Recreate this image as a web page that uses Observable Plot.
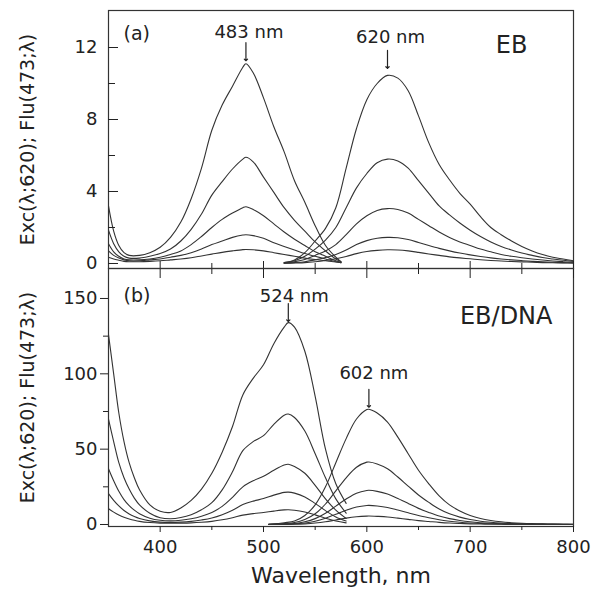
<!DOCTYPE html>
<html><head><meta charset="utf-8">
<script src="https://cdn.jsdelivr.net/npm/d3@7"></script>
<script src="https://cdn.jsdelivr.net/npm/@observablehq/plot@0.6"></script>
<style>
body{margin:0;background:#fff}
#chart{position:relative;width:592px;height:589px;overflow:hidden}
#top,#bot{position:absolute;left:0}
#top{top:0} #bot{top:268px}
svg{overflow:visible}
</style>
</head><body><div id="chart"><div id="top"></div><div id="bot"></div></div>
<script>
// ---------- Panel (a): EB ----------
const wlExcA = [350,355,360,365,370,380,390,400,410,420,430,440,450,460,470,480,483,490,500,510,520,530,540,550,560,570,575];
const excA1 = [3.2,1.8,1.0,0.6,0.45,0.45,0.6,0.9,1.45,2.3,3.6,5.3,7.4,8.8,9.85,10.9,11.1,10.6,9.2,7.6,6.2,4.6,3.4,2.1,1.0,0.35,0.1];
const excA2 = [1.85,1.1,0.65,0.4,0.3,0.3,0.4,0.55,0.8,1.25,1.9,2.75,3.8,4.55,5.25,5.8,5.9,5.65,4.8,3.95,3.1,2.4,1.8,1.2,0.7,0.25,0.1];
const excA3 = [1.1,0.65,0.4,0.25,0.2,0.2,0.25,0.35,0.5,0.7,1.05,1.5,2.0,2.45,2.8,3.1,3.15,3.0,2.65,2.2,1.75,1.35,1.0,0.65,0.4,0.15,0.05];
const excA4 = [0.7,0.45,0.3,0.2,0.15,0.15,0.2,0.25,0.35,0.45,0.6,0.8,1.05,1.25,1.45,1.58,1.6,1.55,1.4,1.15,0.95,0.75,0.55,0.4,0.25,0.1,0.05];
const excA5 = [0.35,0.25,0.18,0.12,0.1,0.1,0.12,0.15,0.2,0.25,0.32,0.42,0.52,0.62,0.7,0.77,0.78,0.76,0.7,0.6,0.5,0.4,0.3,0.22,0.15,0.08,0.05];

const wlEmA = [520,530,540,550,560,570,580,590,600,610,620,630,640,650,660,670,680,690,700,710,720,730,740,750,760,770,780,790,800];
const emA1 = [0.05,0.2,0.6,1.25,1.95,3.1,5.3,7.5,9.1,10.0,10.45,10.3,9.6,8.2,6.7,5.5,4.65,3.9,3.3,2.6,2.0,1.6,1.25,0.95,0.7,0.5,0.35,0.25,0.15];
const emA2 = [0.05,0.15,0.4,0.8,1.3,2.0,3.1,4.2,5.0,5.6,5.8,5.7,5.3,4.6,3.9,3.2,2.7,2.25,1.85,1.5,1.2,0.95,0.75,0.58,0.45,0.33,0.25,0.18,0.12];
const emA3 = [0.03,0.1,0.22,0.45,0.7,1.05,1.6,2.2,2.65,2.95,3.05,3.0,2.8,2.45,2.1,1.75,1.45,1.2,1.0,0.8,0.65,0.5,0.4,0.32,0.25,0.19,0.14,0.1,0.07];
const emA4 = [0.02,0.05,0.1,0.2,0.33,0.5,0.75,1.05,1.27,1.4,1.45,1.43,1.33,1.17,1.0,0.84,0.7,0.58,0.48,0.39,0.31,0.25,0.2,0.16,0.12,0.09,0.07,0.05,0.04];
const emA5 = [0.01,0.03,0.05,0.1,0.17,0.26,0.39,0.55,0.67,0.73,0.76,0.75,0.7,0.62,0.53,0.45,0.37,0.31,0.26,0.21,0.17,0.14,0.11,0.09,0.07,0.05,0.04,0.03,0.02];

// ---------- Panel (b): EB/DNA ----------
const wlExcB = [350,355,360,365,370,375,380,390,400,410,420,430,440,450,460,470,480,490,500,510,520,524,530,540,550,560,570,580];
const excB1 = [126,100,74,55,41,31,23,13,8.8,8.0,11,16,23.5,34,48,65,86,97,106,120,131,134,131,115,85,50,27,14];
const excB2 = [70,55,41,31,23.5,17.5,13,7.5,4.5,3.8,4.6,6.5,9.8,14.5,23,35,49,55,59,66.5,72.5,73.3,71,62,47,31,17,7.5];
const excB3 = [37,29,22,16.5,12.5,9.5,7.2,4.2,2.8,2.4,2.8,3.8,5.5,8,12,18,25,29,32,36,39.5,40,38.5,34,26,17,9.5,4];
const excB4 = [20.5,16,12.3,9.3,7,5.3,4,2.4,1.6,1.4,1.6,2.1,3,4.3,6.5,9.5,13.2,15.5,17.2,19.5,21.3,21.5,20.8,18.3,14,9.2,5,2.3];
const excB5 = [10.4,8.2,6.3,4.8,3.7,2.8,2.1,1.3,0.9,0.8,0.9,1.1,1.5,2.1,3.1,4.5,6.2,7.2,8.0,8.9,9.7,9.8,9.5,8.3,6.4,4.2,2.3,1.1];

const wlEmB = [505,510,520,530,540,550,560,570,580,590,600,602,610,620,630,640,650,660,670,680,690,700,710,720,730,740,750,760,770,780,790,800];
const emB1 = [0.2,0.4,1.2,2.3,6,13,25,41,57,70,76.3,76.5,74,68,58,47,36,27,19,13,9,6,4,2.7,1.8,1.2,0.8,0.55,0.4,0.3,0.2,0.15];
const emB2 = [0.1,0.2,0.65,1.3,3.3,7.1,13.6,22.3,31,38,41.4,41.5,40.2,37,31.5,25.5,19.6,14.7,10.3,7.1,4.9,3.3,2.2,1.5,1.0,0.65,0.45,0.3,0.22,0.16,0.11,0.08];
const emB3 = [0.06,0.12,0.36,0.7,1.8,3.9,7.4,12.2,16.9,20.8,22.6,22.7,22,20.2,17.2,14,10.7,8,5.6,3.9,2.7,1.8,1.2,0.8,0.53,0.36,0.24,0.16,0.12,0.09,0.06,0.04];
const emB4 = [0.03,0.07,0.2,0.38,1.0,2.2,4.2,6.8,9.5,11.6,12.65,12.7,12.3,11.3,9.6,7.8,6.0,4.5,3.15,2.2,1.5,1.0,0.66,0.45,0.3,0.2,0.13,0.09,0.07,0.05,0.03,0.02];
const emB5 = [0.01,0.03,0.09,0.17,0.44,0.95,1.8,3.0,4.2,5.1,5.57,5.6,5.4,5.0,4.2,3.4,2.6,2.0,1.4,0.95,0.66,0.44,0.29,0.2,0.13,0.09,0.06,0.04,0.03,0.02,0.015,0.01];

// ---------- ticks & annotations ----------
const xMajor = [400,500,600,700,800];
const xMinor = [450,550,650,750];
const yMajorA = [0,4,8,12];
const yMinorA = [2,6,10];
const yMajorB = [0,50,100,150];
const yMinorB = [25,75,125];
const peakWlA = [483,620], peakVA = [11.1,10.45], peakTextA = ["483 nm","620 nm"];
const peakWlB = [524,602], peakVB = [134,76.5], peakTextB = ["524 nm","602 nm"];
const yLabel = "Exc(\u03bb;620); Flu(473;\u03bb)";
const xLabel = "Wavelength, nm";

function rows(wl, series, group) {
  return series.flatMap((vals, i) => vals.map((v, j) => ({wl: wl[j], v, s: group + i})));
}
const dataA = [...rows(wlExcA, [excA1,excA2,excA3,excA4,excA5], "ex"), ...rows(wlEmA, [emA1,emA2,emA3,emA4,emA5], "em")];
const dataB = [...rows(wlExcB, [excB1,excB2,excB3,excB4,excB5], "ex"), ...rows(wlEmB, [emB1,emB2,emB3,emB4,emB5], "em")];

const INK = "#222";
const style = {fontFamily: "DejaVu Sans", fontSize: "18px", color: INK, background: "transparent", overflow: "visible"};
const blank = () => "";

function peakMarks(wl, v, txt, i, arrowDy, textDy, textDx) {
  return [
    Plot.vector([0], {x: [wl[i]], y: [v[i]], length: 18, rotate: 180, anchor: "end", shape: "arrow", r: 1.6, dy: arrowDy, stroke: INK, strokeWidth: 1.2}),
    Plot.text([0], {x: [wl[i]], y: [v[i]], text: [txt[i]], dy: textDy, dx: textDx, fontSize: 18, fill: INK, lineAnchor: "middle"})
  ];
}
function label(txt, frameAnchor, opts) {
  return Plot.text([txt], {frameAnchor, text: d => d, lineAnchor: "middle", fill: INK, ...opts});
}

const topPlot = Plot.plot({
  width: 592, height: 268, marginLeft: 108, marginRight: 19, marginTop: 10, marginBottom: 0,
  style,
  x: {domain: [350, 800], label: null},
  y: {domain: [-0.278, 14.056], label: null},
  marks: [
    Plot.line(dataA, {x: "wl", y: "v", z: "s", curve: "catmull-rom", stroke: "#333", strokeWidth: 1.1}),
    Plot.frame({stroke: "#333", strokeWidth: 1.2}),
    Plot.axisY({ticks: yMajorA, tickSize: 0, tickPadding: 11, label: null}),
    Plot.axisY({ticks: yMajorA, tickSize: -10, tickFormat: blank, label: null}),
    Plot.axisY({ticks: yMinorA, tickSize: -7, tickFormat: blank, label: null}),
    Plot.axisX({anchor: "bottom", ticks: xMajor, tickSize: -7, tickFormat: blank, label: null}),
    Plot.axisX({anchor: "bottom", ticks: xMinor, tickSize: -5, tickFormat: blank, label: null}),
    label(yLabel, "left", {rotate: -90, textAnchor: "middle", dx: -81, fontSize: 19}),
    label("(a)", "top-left", {textAnchor: "start", dx: 15, dy: 23, fontSize: 19}),
    label("EB", "top-right", {textAnchor: "end", dx: -46, dy: 35, fontSize: 24}),
    ...peakMarks(peakWlA, peakVA, peakTextA, 0, -3, -31, 3),
    ...peakMarks(peakWlA, peakVA, peakTextA, 1, -7, -38, 3)
  ]
});

const botPlot = Plot.plot({
  width: 592, height: 321, marginLeft: 108, marginRight: 19, marginTop: 0, marginBottom: 63,
  style,
  x: {domain: [350, 800], label: null},
  y: {domain: [-1.33, 169.9], label: null},
  marks: [
    Plot.line(dataB, {x: "wl", y: "v", z: "s", curve: "catmull-rom", stroke: "#333", strokeWidth: 1.1}),
    Plot.frame({stroke: "#333", strokeWidth: 1.2}),
    Plot.axisY({ticks: yMajorB, tickSize: 8, tickPadding: 3, label: null}),
    Plot.axisY({ticks: yMinorB, tickSize: 5, tickFormat: blank, label: null}),
    Plot.axisX({anchor: "top", ticks: xMajor, tickSize: -9, tickFormat: blank, label: null}),
    Plot.axisX({anchor: "top", ticks: xMinor, tickSize: -5, tickFormat: blank, label: null}),
    Plot.axisX({anchor: "bottom", ticks: xMajor, tickSize: 6, tickPadding: 8, label: null}),
    Plot.axisX({anchor: "bottom", ticks: xMinor, tickSize: 4, tickFormat: blank, label: null}),
    label(yLabel, "left", {rotate: -90, textAnchor: "middle", dx: -81, fontSize: 19}),
    label(xLabel, "bottom", {textAnchor: "middle", dy: 49, fontSize: 22}),
    label("(b)", "top-left", {textAnchor: "start", dx: 15, dy: 27, fontSize: 19}),
    label("EB/DNA", "top-right", {textAnchor: "end", dx: -21, dy: 48, fontSize: 24}),
    ...peakMarks(peakWlB, peakVB, peakTextB, 0, -1, -26, 6),
    ...peakMarks(peakWlB, peakVB, peakTextB, 1, -2, -36, 5)
  ]
});

document.getElementById("top").appendChild(topPlot);
document.getElementById("bot").appendChild(botPlot);
</script></body></html>
